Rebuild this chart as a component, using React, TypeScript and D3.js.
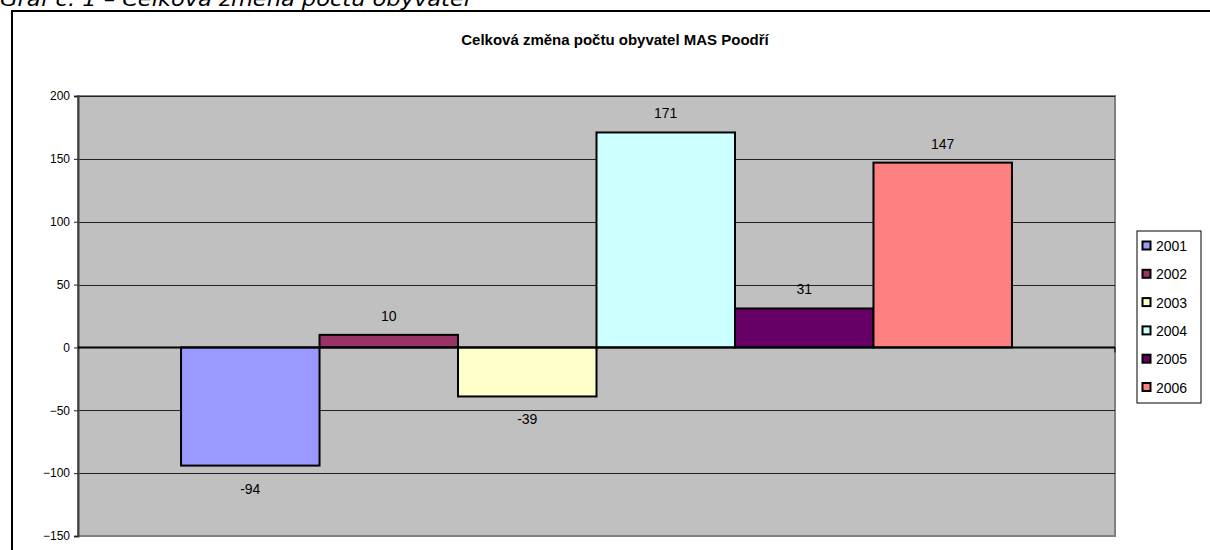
import { useEffect, useRef } from "react";
import * as d3 from "d3";

const categories = ["Celková změna"];
const years = ["2001", "2002", "2003", "2004", "2005", "2006"];
const values = [-94, 10, -39, 171, 31, 147];
const colors = ["#9999FF", "#993366", "#FFFFCC", "#CCFFFF", "#660066", "#FF8080"];
const yTicks = [-150, -100, -50, 0, 50, 100, 150, 200];

const title = "Celková změna počtu obyvatel MAS Poodří";
const caption = "Graf č. 1 – Celková změna počtu obyvatel";

const App = () => {
  const svgRef = useRef<SVGSVGElement>(null);

  const dims = {
    width: 1210,
    height: 550,
    plotLeft: 78,
    plotRight: 1115,
    plotTop: 96,
    plotBottom: 536,
  };

  useEffect(() => {
    const svg = d3.select(svgRef.current);
    svg.selectAll("*").remove();
    const font = "'Liberation Sans', Arial, sans-serif";

    const y = d3
      .scaleLinear()
      .domain([-150, 200])
      .range([dims.plotBottom, dims.plotTop]);
    const x0 = d3
      .scaleBand()
      .domain(categories)
      .range([dims.plotLeft, dims.plotRight])
      .paddingOuter(0.124);
    const x1 = d3
      .scaleBand()
      .domain(years)
      .range([0, x0.bandwidth()])
      .padding(0);

    svg.append("rect").attr("width", dims.width).attr("height", dims.height).attr("fill", "white");

    // caption above the frame (cut by the top of the page, as in the source)
    svg
      .append("text")
      .attr("x", 0)
      .attr("y", 6)
      .attr("font-family", "'DejaVu Sans', sans-serif")
      .attr("font-style", "italic")
      .attr("font-size", 20)
      .attr("textLength", 470)
      .attr("lengthAdjust", "spacingAndGlyphs")
      .attr("fill", "#000")
      .text(caption);

    // outer chart frame
    svg
      .append("rect")
      .attr("x", 12)
      .attr("y", 11)
      .attr("width", 1220)
      .attr("height", 560)
      .attr("fill", "white")
      .attr("stroke", "black")
      .attr("stroke-width", 2);

    svg
      .append("text")
      .attr("x", 615)
      .attr("y", 45)
      .attr("text-anchor", "middle")
      .attr("font-family", font)
      .attr("font-weight", "bold")
      .attr("font-size", 15)
      .text(title);

    // plot area
    svg
      .append("rect")
      .attr("x", dims.plotLeft)
      .attr("y", dims.plotTop)
      .attr("width", dims.plotRight - dims.plotLeft)
      .attr("height", dims.plotBottom - dims.plotTop)
      .attr("fill", "#C0C0C0")
      .attr("stroke", "#808080")
      .attr("stroke-width", 2);

    // gridlines
    svg
      .append("g")
      .selectAll("line")
      .data(yTicks.filter((t) => t !== -150))
      .enter()
      .append("line")
      .attr("x1", dims.plotLeft)
      .attr("x2", dims.plotRight)
      .attr("y1", (d) => Math.round(y(d)) + 0.5)
      .attr("y2", (d) => Math.round(y(d)) + 0.5)
      .attr("stroke", "#222")
      .attr("stroke-width", 1);

    // y axis
    const yAxis = d3.axisLeft(y).tickValues(yTicks).tickSize(4).tickPadding(4);
    const yg = svg
      .append("g")
      .attr("transform", `translate(${dims.plotLeft},0)`)
      .call(yAxis);
    yg.select(".domain").attr("stroke", "#404040").attr("stroke-width", 2);
    yg.selectAll(".tick line").attr("stroke", "#222");
    yg.selectAll(".tick text")
      .attr("font-family", font)
      .attr("font-size", 12)
      .attr("fill", "#000");

    // bars
    const g = svg
      .append("g")
      .attr("transform", `translate(${x0(categories[0])},0)`);
    g.selectAll("rect")
      .data(values)
      .enter()
      .append("rect")
      .attr("x", (_, i) => x1(years[i])!)
      .attr("width", x1.bandwidth())
      .attr("y", (d) => y(Math.max(0, d)))
      .attr("height", (d) => Math.abs(y(d) - y(0)))
      .attr("fill", (_, i) => colors[i])
      .attr("stroke", "black")
      .attr("stroke-width", 2);

    // zero axis line
    svg
      .append("line")
      .attr("x1", dims.plotLeft)
      .attr("x2", dims.plotRight)
      .attr("y1", y(0))
      .attr("y2", y(0))
      .attr("stroke", "black")
      .attr("stroke-width", 2);
    svg
      .append("line")
      .attr("x1", dims.plotRight)
      .attr("x2", dims.plotRight)
      .attr("y1", y(0))
      .attr("y2", y(0) + 5)
      .attr("stroke", "black")
      .attr("stroke-width", 1);

    // value labels
    g.selectAll("text")
      .data(values)
      .enter()
      .append("text")
      .attr("x", (_, i) => x1(years[i])! + x1.bandwidth() / 2)
      .attr("y", (d) => (d >= 0 ? y(d) - 14 : y(d) + 28))
      .attr("text-anchor", "middle")
      .attr("font-family", font)
      .attr("font-size", 14)
      .attr("fill", "#000")
      .text((d) => d);

    // legend
    const lg = svg.append("g").attr("transform", "translate(1137,231)");
    lg.append("rect")
      .attr("width", 64)
      .attr("height", 172)
      .attr("fill", "white")
      .attr("stroke", "black")
      .attr("stroke-width", 1);
    const items = lg
      .selectAll("g.item")
      .data(years)
      .enter()
      .append("g")
      .attr("class", "item")
      .attr("transform", (_, i) => `translate(0,${15 + i * 28.3})`);
    items
      .append("rect")
      .attr("x", 5.5)
      .attr("y", -4.5)
      .attr("width", 8)
      .attr("height", 8)
      .attr("fill", (_, i) => colors[i])
      .attr("stroke", "black")
      .attr("stroke-width", 2);
    items
      .append("text")
      .attr("x", 19)
      .attr("y", 5)
      .attr("font-family", font)
      .attr("font-size", 14)
      .attr("fill", "#000")
      .text((d) => d);
  }, []);

  return (
    <div style={{ position: "absolute", left: 0, top: 0 }}>
      <svg ref={svgRef} width={dims.width} height={dims.height} style={{ display: "block" }}></svg>
    </div>
  );
};

export default App;
